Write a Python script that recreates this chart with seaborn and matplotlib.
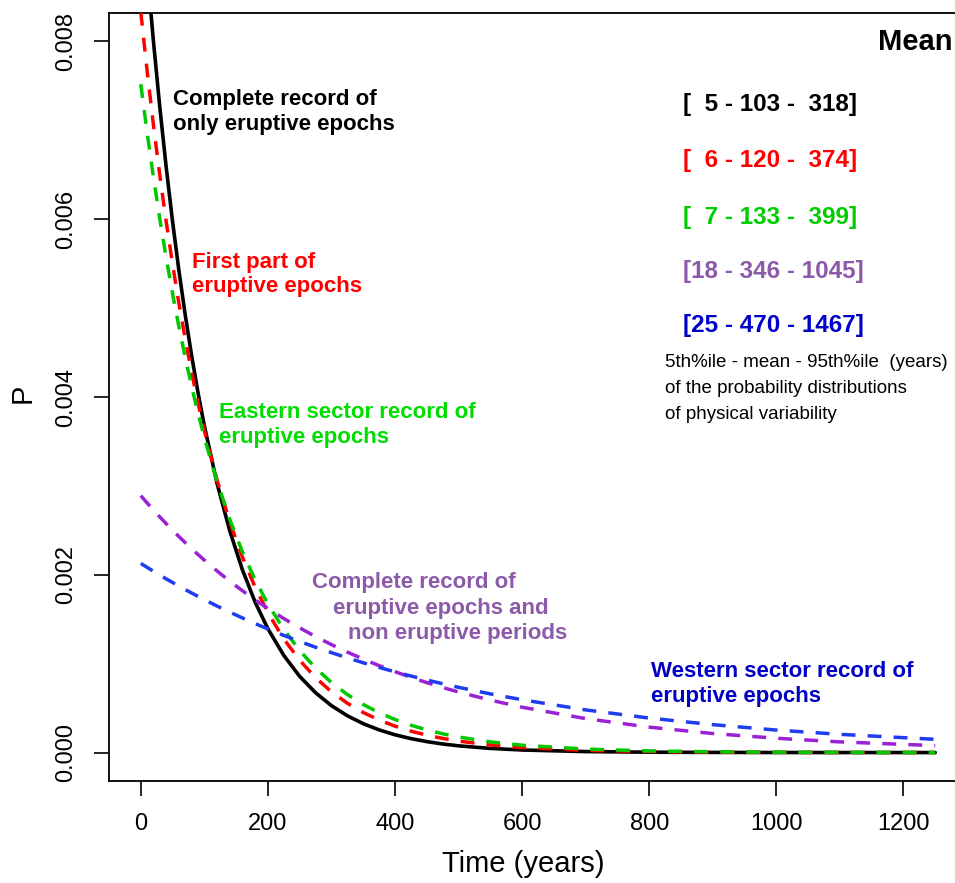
import matplotlib
matplotlib.use("Agg")
import matplotlib.pyplot as plt
import seaborn as sns

# ---------------- data ----------------
time_years = [0, 10, 20, 30, 40, 50, 60, 70, 80, 90, 100, 120, 140, 160, 180, 200,
              225, 250, 275, 300, 325, 350, 375, 400, 425, 450, 475, 500, 550, 600,
              700, 800, 900, 1000, 1100, 1250]

p_complete_eruptive = [0.009709, 0.008811, 0.007996, 0.007256, 0.006584, 0.005975,
                       0.005422, 0.004921, 0.004465, 0.004052, 0.003677, 0.003028,
                       0.002494, 0.002054, 0.001691, 0.001393, 0.001093, 0.000857,
                       0.000673, 0.000528, 0.000414, 0.000325, 0.000255, 0.000200,
                       0.000157, 0.000123, 0.0000965, 0.0000757, 0.0000466,
                       0.0000287, 0.0000109, 0.0000041, 0.0000016, 0.0000006,
                       0.0000002, 0.0]
p_first_part = [0.008333, 0.007667, 0.007054, 0.006490, 0.005971, 0.005494, 0.005054,
                0.004650, 0.004278, 0.003936, 0.003622, 0.003066, 0.002595, 0.002197,
                0.001859, 0.001574, 0.001278, 0.001038, 0.000842, 0.000684, 0.000555,
                0.000451, 0.000366, 0.000297, 0.000241, 0.000196, 0.000159, 0.000129,
                0.0000852, 0.0000561, 0.0000244, 0.0000106, 0.0000046, 0.0000020,
                0.0000009, 0.0000002]
p_eastern = [0.007519, 0.006974, 0.006469, 0.006000, 0.005566, 0.005163, 0.004789,
             0.004442, 0.004120, 0.003822, 0.003545, 0.003050, 0.002624, 0.002258,
             0.001943, 0.001671, 0.001385, 0.001148, 0.000951, 0.000788, 0.000653,
             0.000541, 0.000448, 0.000372, 0.000308, 0.000255, 0.000211, 0.000175,
             0.000120, 0.0000826, 0.0000390, 0.0000184, 0.0000087, 0.0000041,
             0.0000019, 0.0000006]
p_complete_all = [0.002890, 0.002808, 0.002728, 0.002650, 0.002575, 0.002501, 0.002430,
                  0.002361, 0.002294, 0.002228, 0.002165, 0.002043, 0.001928, 0.001820,
                  0.001718, 0.001621, 0.001508, 0.001403, 0.001305, 0.001214, 0.001130,
                  0.001051, 0.000978, 0.000910, 0.000846, 0.000787, 0.000732, 0.000681,
                  0.000590, 0.000510, 0.000382, 0.000286, 0.000214, 0.000161, 0.000120,
                  0.0000780]
p_western = [0.002128, 0.002083, 0.002039, 0.001996, 0.001954, 0.001913, 0.001873,
             0.001833, 0.001795, 0.001757, 0.001720, 0.001648, 0.001580, 0.001514,
             0.001451, 0.001390, 0.001318, 0.001250, 0.001185, 0.001124, 0.001066,
             0.001010, 0.000958, 0.000908, 0.000861, 0.000817, 0.000774, 0.000734,
             0.000660, 0.000594, 0.000480, 0.000388, 0.000314, 0.000253, 0.000205,
             0.000149]

x_ticks = [0, 200, 400, 600, 800, 1000, 1200]
y_ticks = [0.000, 0.002, 0.004, 0.006, 0.008]
y_tick_labels = ["0.000", "0.002", "0.004", "0.006", "0.008"]

bracket_labels = ["[  5 - 103 -  318]", "[  6 - 120 -  374]", "[  7 - 133 -  399]",
                  "[18 - 346 - 1045]", "[25 - 470 - 1467]"]

# ---------------- style ----------------
sns.set_theme(style="white")
plt.rcParams["font.family"] = ["Liberation Sans", "DejaVu Sans"]
plt.rcParams["axes.edgecolor"] = "black"
plt.rcParams["axes.linewidth"] = 1.2

W, H = 955, 883
fig = plt.figure(figsize=(W / 100, H / 100), dpi=100)
ax = fig.add_axes([109 / W, (H - 781) / H, 858 / W, 768 / H])

# ---------------- curves ----------------
sns.lineplot(x=time_years, y=p_complete_eruptive, ax=ax, color="black",
             linewidth=2.6, zorder=3)
dash = (0, (4, 3.5))
sns.lineplot(x=time_years, y=p_first_part, ax=ax, color="#FF0000",
             linewidth=2.5, linestyle=dash, zorder=4)
sns.lineplot(x=time_years, y=p_eastern, ax=ax, color="#00C800",
             linewidth=2.5, linestyle=dash, zorder=4)
sns.lineplot(x=time_years, y=p_complete_all, ax=ax, color="#9A22D4",
             linewidth=2.5, linestyle=dash, zorder=4)
sns.lineplot(x=time_years, y=p_western, ax=ax, color="#1E3CF0",
             linewidth=2.5, linestyle=dash, zorder=4)

ax.set_xlim(-50, 1300)
ax.set_ylim(-0.00032, 0.00832)
ax.set_xticks(x_ticks)
ax.set_xticklabels([str(t) for t in x_ticks])
ax.set_yticks(y_ticks)
ax.set_yticklabels(y_tick_labels)
ax.tick_params(axis="both", direction="out", length=11, width=1.2, color="black",
               labelsize=17, labelcolor="black", bottom=True, left=True, pad=12)
for lab in ax.get_yticklabels():
    lab.set_rotation(90)
    lab.set_va("center")
    lab.set_ha("right")

for s in ax.spines.values():
    s.set_color("black")
    s.set_linewidth(1.3)

ax.set_xlabel("Time (years)", fontsize=21, color="black")
ax.xaxis.label.set_va("center")
ax.xaxis.set_label_coords((523 - 109) / 858, (781 - 864) / 768)
ax.set_ylabel("P", fontsize=21, color="black")
ax.yaxis.label.set_va("center")
ax.yaxis.set_label_coords((23 - 109) / 858, (781 - 393) / 768)


def ptext(px, py, s, **kw):
    fig.text(px / W, 1 - py / H, s, va="baseline", ha="left", **kw)


ann = dict(fontsize=16, fontweight="bold")
ptext(173, 105, "Complete record of", color="black", **ann)
ptext(173, 130, "only eruptive epochs", color="black", **ann)
ptext(192, 268, "First part of", color="#FF0000", **ann)
ptext(192, 292, "eruptive epochs", color="#FF0000", **ann)
ptext(219, 418, "Eastern sector record of", color="#00DD00", **ann)
ptext(219, 443, "eruptive epochs", color="#00DD00", **ann)
ptext(312, 588, "Complete record of", color="#8C5AA8", **ann)
ptext(333, 614, "eruptive epochs and", color="#8C5AA8", **ann)
ptext(348, 639, "non eruptive periods", color="#8C5AA8", **ann)
ptext(651, 677, "Western sector record of", color="#0000C4", **ann)
ptext(651, 702, "eruptive epochs", color="#0000C4", **ann)

ptext(878, 50, "Mean", color="black", fontsize=21, fontweight="bold")

bracket_colors = ["black", "#FF0000", "#00CC00", "#8C5AA8", "#0000C8"]
bracket_base = [111, 167, 224, 278, 332]
for lab, col, yb in zip(bracket_labels, bracket_colors, bracket_base):
    ptext(683, yb, lab, color=col, fontsize=17.5, fontweight="bold")

ptext(665, 367, "5th%ile - mean - 95th%ile  (years)", color="black", fontsize=13.5)
ptext(665, 393, "of the probability distributions", color="black", fontsize=13.5)
ptext(665, 419, "of physical variability", color="black", fontsize=13.5)

fig.savefig("out.png", dpi=100)
